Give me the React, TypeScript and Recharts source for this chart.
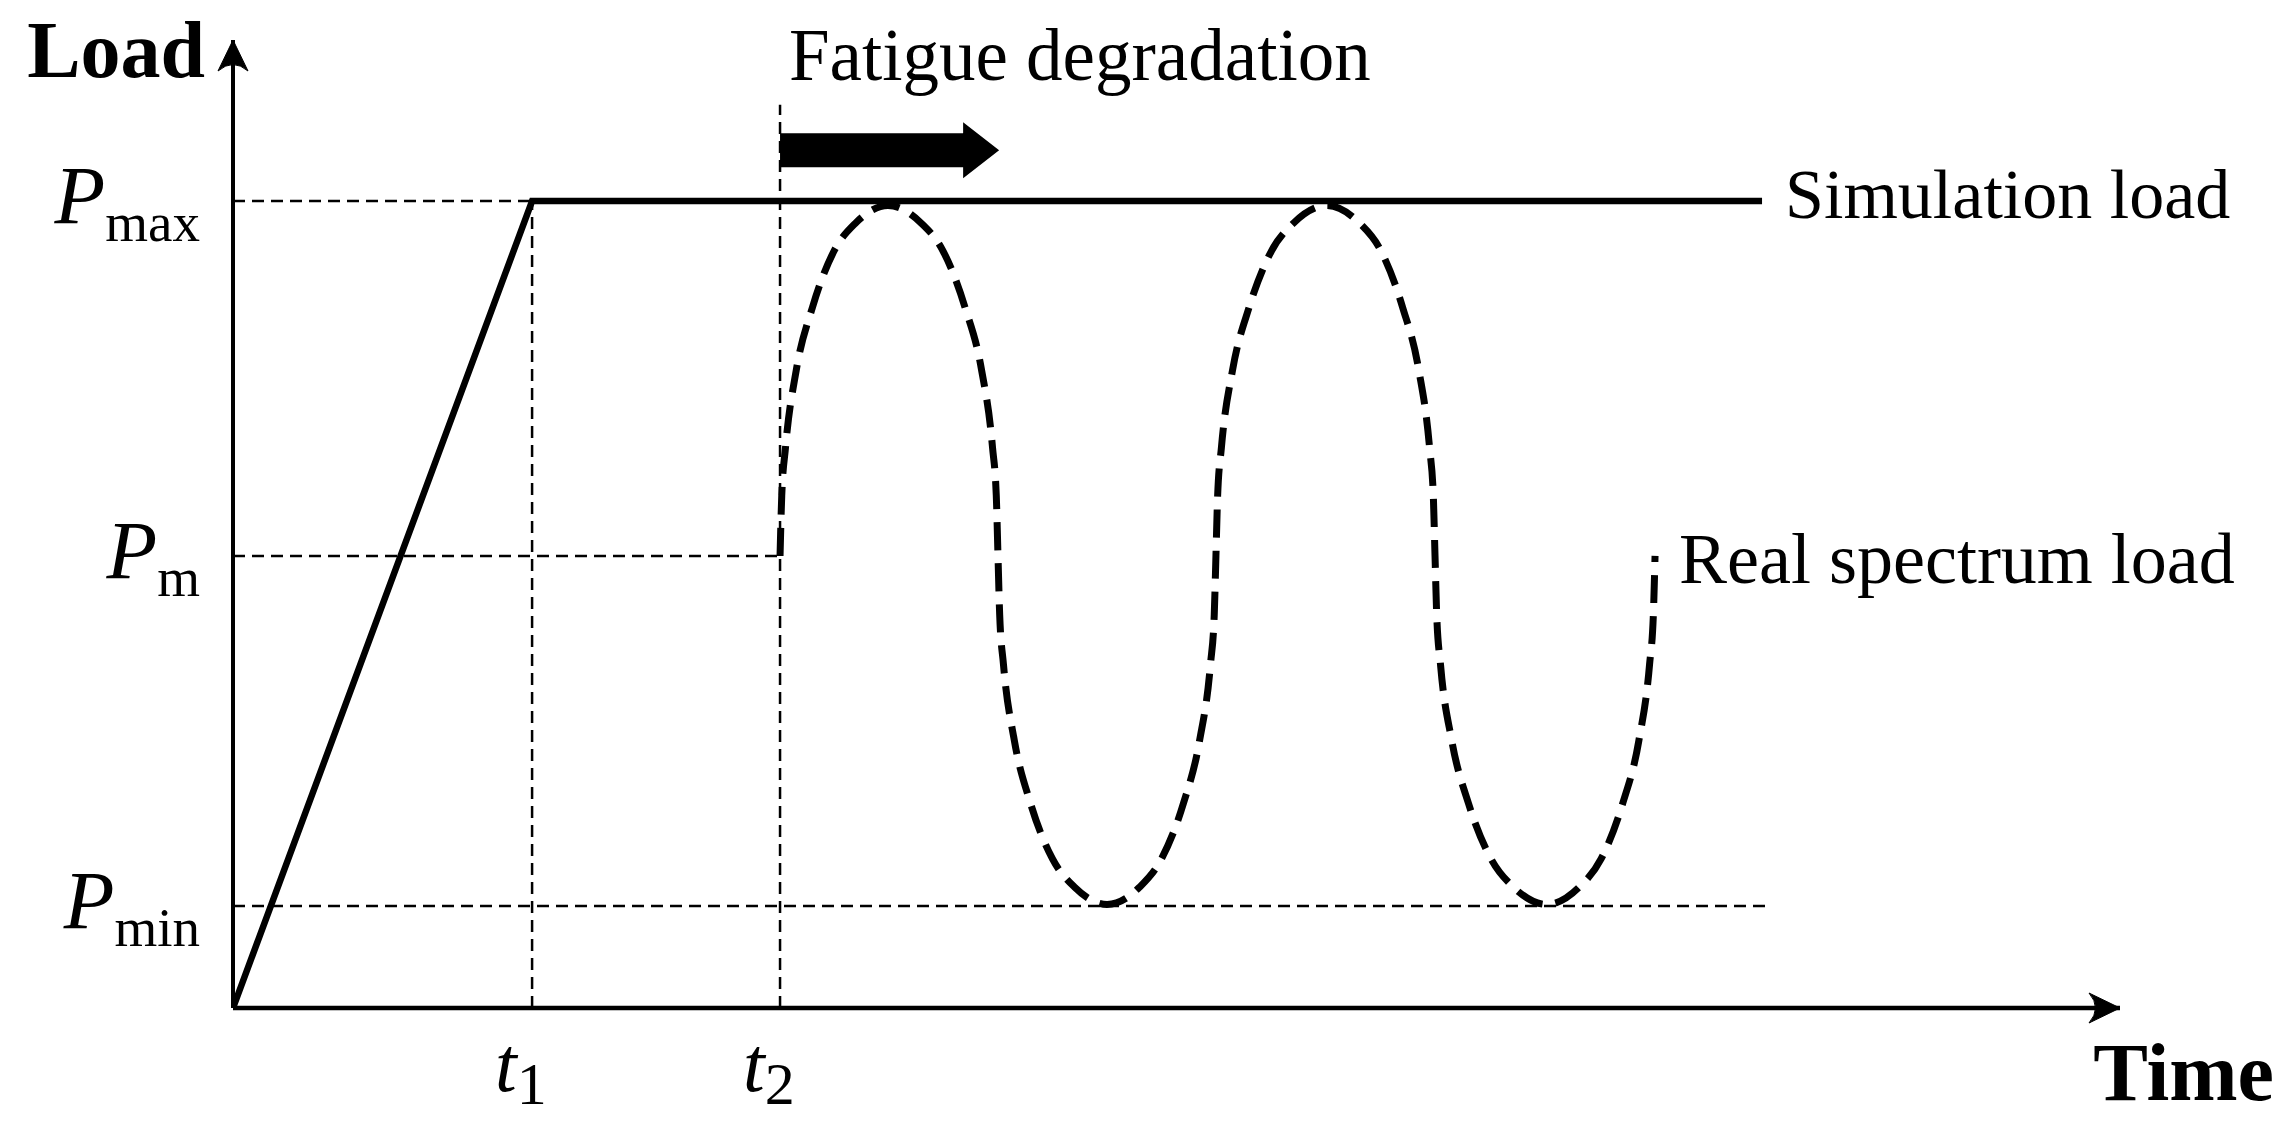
import React from "react";
import { LineChart, Line, XAxis, YAxis, ReferenceLine, ReferenceDot } from "recharts";

// load levels (y axis 0..100) and time marks (x axis 0..100)
const P_MAX = 83.36;
const P_M = 46.69;
const P_MIN = 10.54;
const T1 = 15.85;
const T2 = 28.99;

const loadTicks = [P_MIN, P_M, P_MAX];
const loadTickSubs = ["min", "m", "max"];
const timeTicks = [T1, T2];
const timeTickSubs = ["1", "2"];

// simulation load: ramp then hold
const simTime = [0, T1, 81.03];
const simLoad = [0, P_MAX, P_MAX];

// real spectrum load
const spectrumTime = [
  28.99, 29.08, 29.28, 29.85, 30.71, 31.85, 33.0, 34.71,
  36.46, 37.63, 38.79, 39.67, 40.25, 40.45, 40.54,
  40.63, 40.83, 41.41, 42.27, 43.43, 44.59, 46.32,
  48.05, 49.2, 50.36, 51.22, 51.8, 52.0, 52.09,
  52.18, 52.38, 52.97, 53.85, 55.03, 56.21, 57.97,
  59.69, 60.84, 61.98, 62.84, 63.41, 63.61, 63.7,
  63.79, 63.99, 64.59, 65.48, 66.67, 67.85, 69.63,
  71.35, 72.5, 73.64, 74.5, 75.07, 75.27, 75.36,
];
const spectrumLoad = [
  46.7, 52.9, 57.9, 65.9, 72.4, 78.2, 81.1, 82.9,
  81.1, 78.2, 72.4, 65.9, 57.9, 52.9, 46.7,
  40.6, 35.5, 27.6, 21.1, 15.4, 12.5, 10.7,
  12.5, 15.4, 21.1, 27.6, 35.5, 40.6, 46.7,
  52.9, 57.9, 65.9, 72.4, 78.2, 81.1, 82.9,
  81.1, 78.2, 72.4, 65.9, 57.9, 52.9, 46.7,
  40.6, 35.5, 27.6, 21.1, 15.4, 12.5, 10.7,
  12.5, 15.4, 21.1, 27.6, 35.5, 40.6, 46.7,
];

// dashed guide lines [x1, y1, x2, y2]
const guides = [
  [0, P_MAX, T1, P_MAX],
  [T1, 0, T1, P_MAX],
  [0, P_M, T2, P_M],
  [T2, 0, T2, 93.3],
  [0, P_MIN, 81.3, P_MIN],
];

const simData = simTime.map((t, i) => ({ time: t, load: simLoad[i] }));
const spectrumData = spectrumTime.map((t, i) => ({ time: t, load: spectrumLoad[i] }));

const FONT = "'Liberation Serif', 'Times New Roman', serif";

function LoadTick(props: any) {
  const { x, y, payload } = props;
  const sub = loadTickSubs[loadTicks.indexOf(payload.value)];
  return (
    <text x={x - 33} y={y + 22} textAnchor="end" fontFamily={FONT} fill="#000">
      <tspan fontStyle="italic" fontSize={83}>P</tspan>
      <tspan fontSize={55} dy={18}>{sub}</tspan>
    </text>
  );
}

function TimeTick(props: any) {
  const { x, y, payload } = props;
  const sub = timeTickSubs[timeTicks.indexOf(payload.value)];
  return (
    <text x={x - 37} y={y + 83} fontFamily={FONT} fill="#000">
      <tspan fontStyle="italic" fontSize={78}>t</tspan>
      <tspan fontSize={60} dy={13}>{sub}</tspan>
    </text>
  );
}

const arrowHead = (dir: "right" | "up") => (p: any) => {
  const { cx, cy } = p;
  const d =
    dir === "right"
      ? `M${cx},${cy} L${cx - 31},${cy - 15} Q${cx - 18},${cy} ${cx - 31},${cy + 15} Z`
      : `M${cx},${cy} L${cx - 15},${cy + 31} Q${cx},${cy + 18} ${cx + 15},${cy + 31} Z`;
  return <path d={d} fill="#000" stroke="#000" strokeWidth={1} />;
};

const blockArrow = (p: any) => {
  const { x1, y1, x2 } = p;
  const head = 36;
  const d = `M${x1},${y1 - 17} L${x2 - head},${y1 - 17} L${x2 - head},${y1 - 28} L${x2},${y1} L${x2 - head},${y1 + 28} L${x2 - head},${y1 + 17} L${x1},${y1 + 17} Z`;
  return <path d={d} fill="#000" />;
};

const textAt = (txt: string, size: number, dx: number, dy: number, bold = false, anchor = "start") => (p: any) => (
  <text
    x={p.cx + dx}
    y={p.cy + dy}
    fontFamily={FONT}
    fontSize={size}
    fontWeight={bold ? "bold" : "normal"}
    textAnchor={anchor}
    fill="#000"
  >
    {txt}
  </text>
);

export default function App() {
  return (
    <div style={{ position: "absolute", left: 0, top: 0, width: 2291, height: 1121, background: "#fff" }}>
      <LineChart width={2291} height={1121} margin={{ top: 40, right: 171, bottom: 13, left: 33 }}>
        <XAxis
          dataKey="time"
          type="number"
          domain={[0, 100]}
          allowDataOverflow
          ticks={timeTicks}
          interval={0}
          height={100}
          axisLine={false}
          tickLine={false}
          tickSize={0}
          tickMargin={0}
          tick={<TimeTick />}
        />
        <YAxis
          dataKey="load"
          type="number"
          domain={[0, 100]}
          allowDataOverflow
          ticks={loadTicks}
          interval={0}
          width={200}
          axisLine={false}
          tickLine={false}
          tickSize={0}
          tickMargin={0}
          tick={<LoadTick />}
        />
        {guides.map((g, i) => (
          <ReferenceLine
            key={i}
            segment={[{ x: g[0], y: g[1] }, { x: g[2], y: g[3] }]}
            stroke="#000"
            strokeWidth={2.5}
            strokeDasharray="12 7"
            ifOverflow="visible"
          />
        ))}
        <ReferenceLine segment={[{ x: 0, y: 0 }, { x: 100, y: 0 }]} stroke="#000" strokeWidth={4.5} ifOverflow="visible" />
        <ReferenceLine segment={[{ x: 0, y: 0 }, { x: 0, y: 100 }]} stroke="#000" strokeWidth={4} ifOverflow="visible" />
        <ReferenceDot x={100} y={0} r={0} shape={arrowHead("right")} ifOverflow="visible" />
        <ReferenceDot x={0} y={100} r={0} shape={arrowHead("up")} ifOverflow="visible" />
        <ReferenceLine segment={[{ x: T2, y: 88.6 }, { x: 40.6, y: 88.6 }]} shape={blockArrow} ifOverflow="visible" />
        <ReferenceDot x={0} y={100} r={0} shape={textAt("Load", 80, -28, 37, true, "end")} ifOverflow="visible" />
        <ReferenceDot x={100} y={0} r={0} shape={textAt("Time", 82, 154, 92, true, "end")} ifOverflow="visible" />
        <ReferenceDot x={29.46} y={95.87} r={0} shape={textAt("Fatigue degradation", 73, 0, 0)} ifOverflow="visible" />
        <ReferenceDot x={82.25} y={81.6} r={0} shape={textAt("Simulation load", 70, 0, 0)} ifOverflow="visible" />
        <ReferenceDot x={76.63} y={43.9} r={0} shape={textAt("Real spectrum load", 72, 0, 0)} ifOverflow="visible" />
        <Line
          data={simData}
          dataKey="load"
          type="linear"
          stroke="#000"
          strokeWidth={6.5}
          dot={false}
          activeDot={false}
          isAnimationActive={false}
        />
        <Line
          data={spectrumData}
          dataKey="load"
          type="monotone"
          stroke="#000"
          strokeWidth={7}
          strokeDasharray="28 13"
          dot={false}
          activeDot={false}
          isAnimationActive={false}
        />
      </LineChart>
    </div>
  );
}
